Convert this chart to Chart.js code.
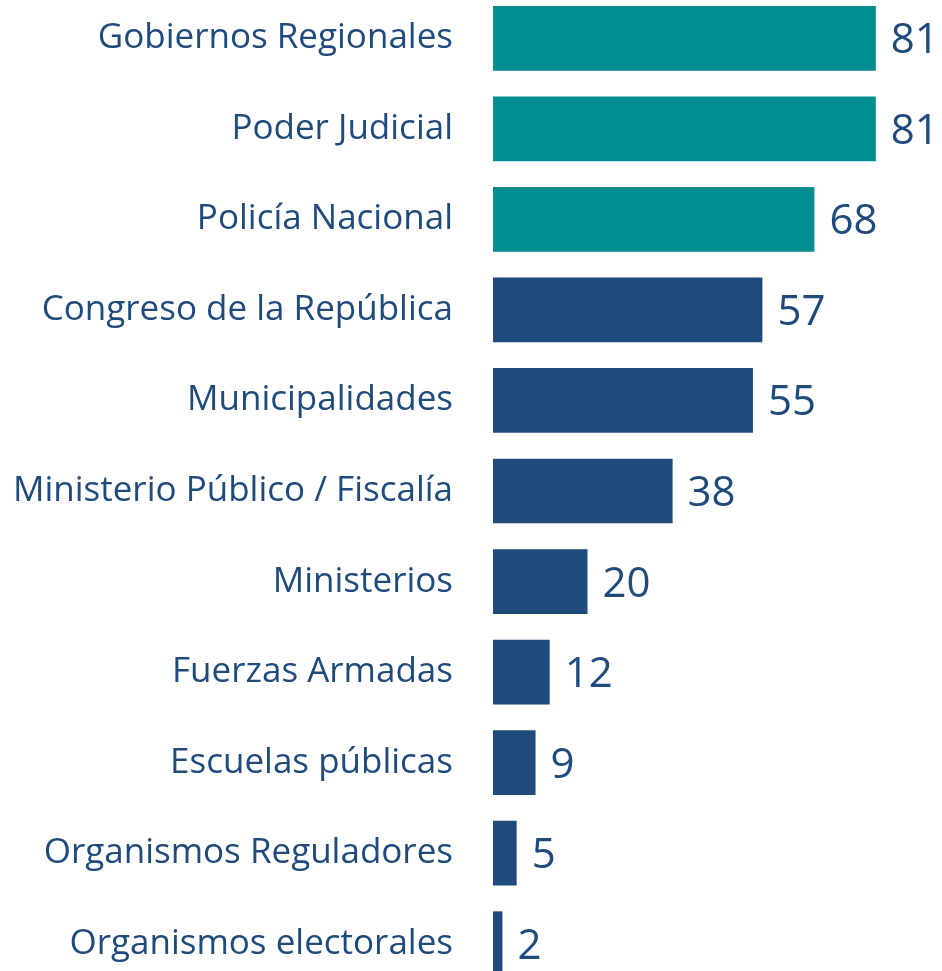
<!DOCTYPE html>
<html>
<head>
<meta charset="utf-8">
<script src="https://cdn.jsdelivr.net/npm/chart.js@4"></script>
<style>
  html, body { margin: 0; padding: 0; background: #fff; overflow: hidden; }
  body { width: 942px; height: 971px; position: relative; }
  #chart { position: absolute; left: 0; top: -7px; }
</style>
</head>
<body>
<canvas id="chart" width="942" height="996"></canvas>
<script>
'use strict';

// ── Data ─────────────────────────────────────────────────────────────────────
const categories = [
  'Gobiernos Regionales',
  'Poder Judicial',
  'Policía Nacional',
  'Congreso de la República',
  'Municipalidades',
  'Ministerio Público / Fiscalía',
  'Ministerios',
  'Fuerzas Armadas',
  'Escuelas públicas',
  'Organismos Reguladores',
  'Organismos electorales'
];
const values = [81, 81, 68, 57, 55, 38, 20, 12, 9, 5, 2];
const highlighted = [true, true, true, false, false, false, false, false, false, false, false];

const TEAL = '#028d91';
const NAVY = '#1f4a7c';
const TEXT = '#1f4a7c';
const FONT = '"Open Sans"';

// ── Value labels at the end of each bar ──────────────────────────────────────
const valueLabels = {
  id: 'valueLabels',
  afterDatasetsDraw(chart) {
    const ctx = chart.ctx;
    const meta = chart.getDatasetMeta(0);
    ctx.save();
    ctx.fillStyle = TEXT;
    ctx.font = '42px ' + FONT;
    ctx.textAlign = 'left';
    ctx.textBaseline = 'middle';
    meta.data.forEach((bar, i) => {
      ctx.fillText(String(values[i]), bar.x + 15, bar.y + 3);
    });
    ctx.restore();
  }
};

new Chart(document.getElementById('chart').getContext('2d'), {
  type: 'bar',
  data: {
    labels: categories,
    datasets: [{
      data: values,
      backgroundColor: highlighted.map(h => h ? TEAL : NAVY),
      borderWidth: 0,
      barPercentage: 0.715,
      categoryPercentage: 1
    }]
  },
  options: {
    indexAxis: 'y',
    responsive: false,
    animation: false,
    layout: { padding: 0 },
    plugins: { legend: { display: false }, tooltip: { enabled: false } },
    scales: {
      x: {
        display: false,
        min: 0,
        max: 95
      },
      y: {
        grid: { display: false, drawTicks: false },
        border: { display: false },
        ticks: { color: TEXT, padding: 40, font: { family: FONT, size: 35 } },
        afterFit(scale) {
          // fixed label column; no extra vertical padding from tick labels
          scale.width = 493;
          scale.paddingTop = 0;
          scale.paddingBottom = 0;
        }
      }
    }
  },
  plugins: [valueLabels]
});
</script>
</body>
</html>
